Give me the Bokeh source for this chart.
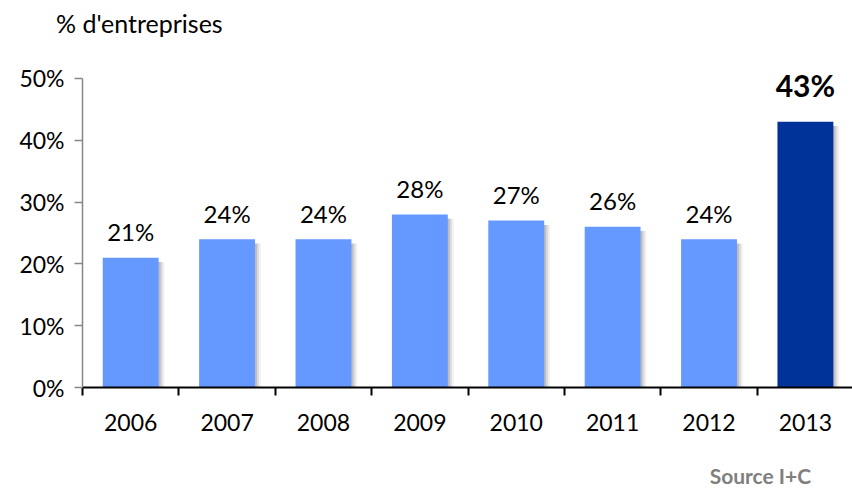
from bokeh.plotting import figure
from bokeh.models import ColumnDataSource, Range1d, FixedTicker, LinearAxis, NumeralTickFormatter
from bokeh.core.properties import value
from bokeh.embed import file_html
from bokeh.resources import INLINE

years = ["2006", "2007", "2008", "2009", "2010", "2011", "2012", "2013"]
shares = [21, 24, 24, 28, 27, 26, 24, 43]
y_ticks = [0, 10, 20, 30, 40, 50]
y_title = "% d'entreprises"
source_note = "Source I+C"

FONT = "Lato"
W, H = 852, 490
LEFT, TOP, BOTTOM = 82.7, 60, 102
AXIS_PX = 310  # pixel height of the 0..50 axis
n = len(years)
xs = list(range(n))
hl = n - 1
base_color = "#6699FF"
hl_color = "#003399"
colors = [hl_color if i == hl else base_color for i in xs]
labels = [f"{v}%" for v in shares]
y_max = y_ticks[-1]

src = ColumnDataSource(dict(x=xs, top=shares, color=colors, label=labels))
reg_src = ColumnDataSource(dict(x=xs[:hl], top=shares[:hl], label=labels[:hl]))
hl_src = ColumnDataSource(dict(x=xs[hl:], top=shares[hl:], label=labels[hl:]))

cat_px = 96.3
px = 1 / cat_px
def sx_to_data(sx):
    return -0.5 + (sx - LEFT) / cat_px

frame_h = H - TOP - BOTTOM
p = figure(width=W, height=H, output_backend="svg", toolbar_location=None,
           x_range=Range1d(-0.5, sx_to_data(W)),
           y_range=Range1d(0, y_max * frame_h / AXIS_PX),
           min_border_left=int(LEFT), min_border_right=0, min_border_top=TOP,
           min_border_bottom=BOTTOM)
p.outline_line_color = None
p.xgrid.visible = False
p.ygrid.visible = False

# shadows
for k, a in [(2, 0.22), (4, 0.14), (6, 0.08)]:
    p.vbar(x=[x + k * px for x in xs], top=[v - 0.7 for v in shares], bottom=0,
           width=0.58, fill_color="#555555", fill_alpha=a, line_color=None)
p.vbar(x="x", top="top", bottom=0, width=0.58, fill_color="color", line_color=None, source=src)

p.text(x="x", y="top", text="label", source=reg_src, text_align="center",
       text_baseline="alphabetic", y_offset=-26, text_font=value(FONT),
       text_font_size="24px", text_color="#000000")
p.text(x="x", y="top", text="label", source=hl_src, text_align="center",
       text_baseline="alphabetic", y_offset=-37, text_font=value(FONT),
       text_font_size="30px", text_font_style="bold", text_color="#000000")

# y axis
p.yaxis.ticker = FixedTicker(ticks=y_ticks)
p.yaxis.bounds = (0, y_max)
p.yaxis.formatter = NumeralTickFormatter(format="0")
p.yaxis.major_label_overrides = {t: f"{t}%" for t in y_ticks}
p.yaxis.axis_line_color = "#868686"
p.yaxis.axis_line_width = 1.5
p.yaxis.major_tick_line_color = "#868686"
p.yaxis.major_tick_line_width = 1.5
p.yaxis.major_tick_out = 8
p.yaxis.major_tick_in = 0
p.yaxis.minor_tick_line_color = None
p.yaxis.major_label_standoff = 10
p.yaxis.major_label_text_font = FONT
p.yaxis.major_label_text_font_size = "23px"
p.yaxis.major_label_text_color = "#000000"

# x axis (ticks between categories)
p.xaxis.ticker = FixedTicker(ticks=xs, minor_ticks=[x - 0.5 for x in xs] + [n - 0.5])
p.xaxis.major_label_overrides = {i: y for i, y in zip(xs, years)}
p.xaxis.axis_line_color = "#000000"
p.xaxis.axis_line_width = 2
p.xaxis.major_tick_line_color = None
p.xaxis.major_tick_out = 6
p.xaxis.major_tick_in = 0
p.xaxis.minor_tick_line_color = "#000000"
p.xaxis.minor_tick_line_width = 2
p.xaxis.minor_tick_out = 8
p.xaxis.minor_tick_in = 0
p.xaxis.major_label_standoff = 18
p.xaxis.major_label_text_font = FONT
p.xaxis.major_label_text_font_size = "23px"
p.xaxis.major_label_text_color = "#000000"

def text_axis(text, center_sx, standoff, size, style, color):
    pos = sx_to_data(center_sx)
    ax = LinearAxis(ticker=FixedTicker(ticks=[pos], minor_ticks=[]),
                    major_label_overrides={pos: text})
    ax.axis_line_color = None
    ax.major_tick_line_color = None
    ax.minor_tick_line_color = None
    ax.major_tick_out = 0
    ax.major_tick_in = 0
    ax.minor_tick_out = 0
    ax.major_label_standoff = standoff
    ax.major_label_text_font = FONT
    ax.major_label_text_font_size = size
    ax.major_label_text_font_style = style
    ax.major_label_text_color = color
    return ax

p.add_layout(text_axis(y_title, 139.5, 23, "25px", "normal", "#000000"), "above")
p.add_layout(text_axis(source_note, 760, 29, "21px", "bold", "#7F7F7F"), "below")

open("out.html", "w").write(file_html(p, INLINE))
